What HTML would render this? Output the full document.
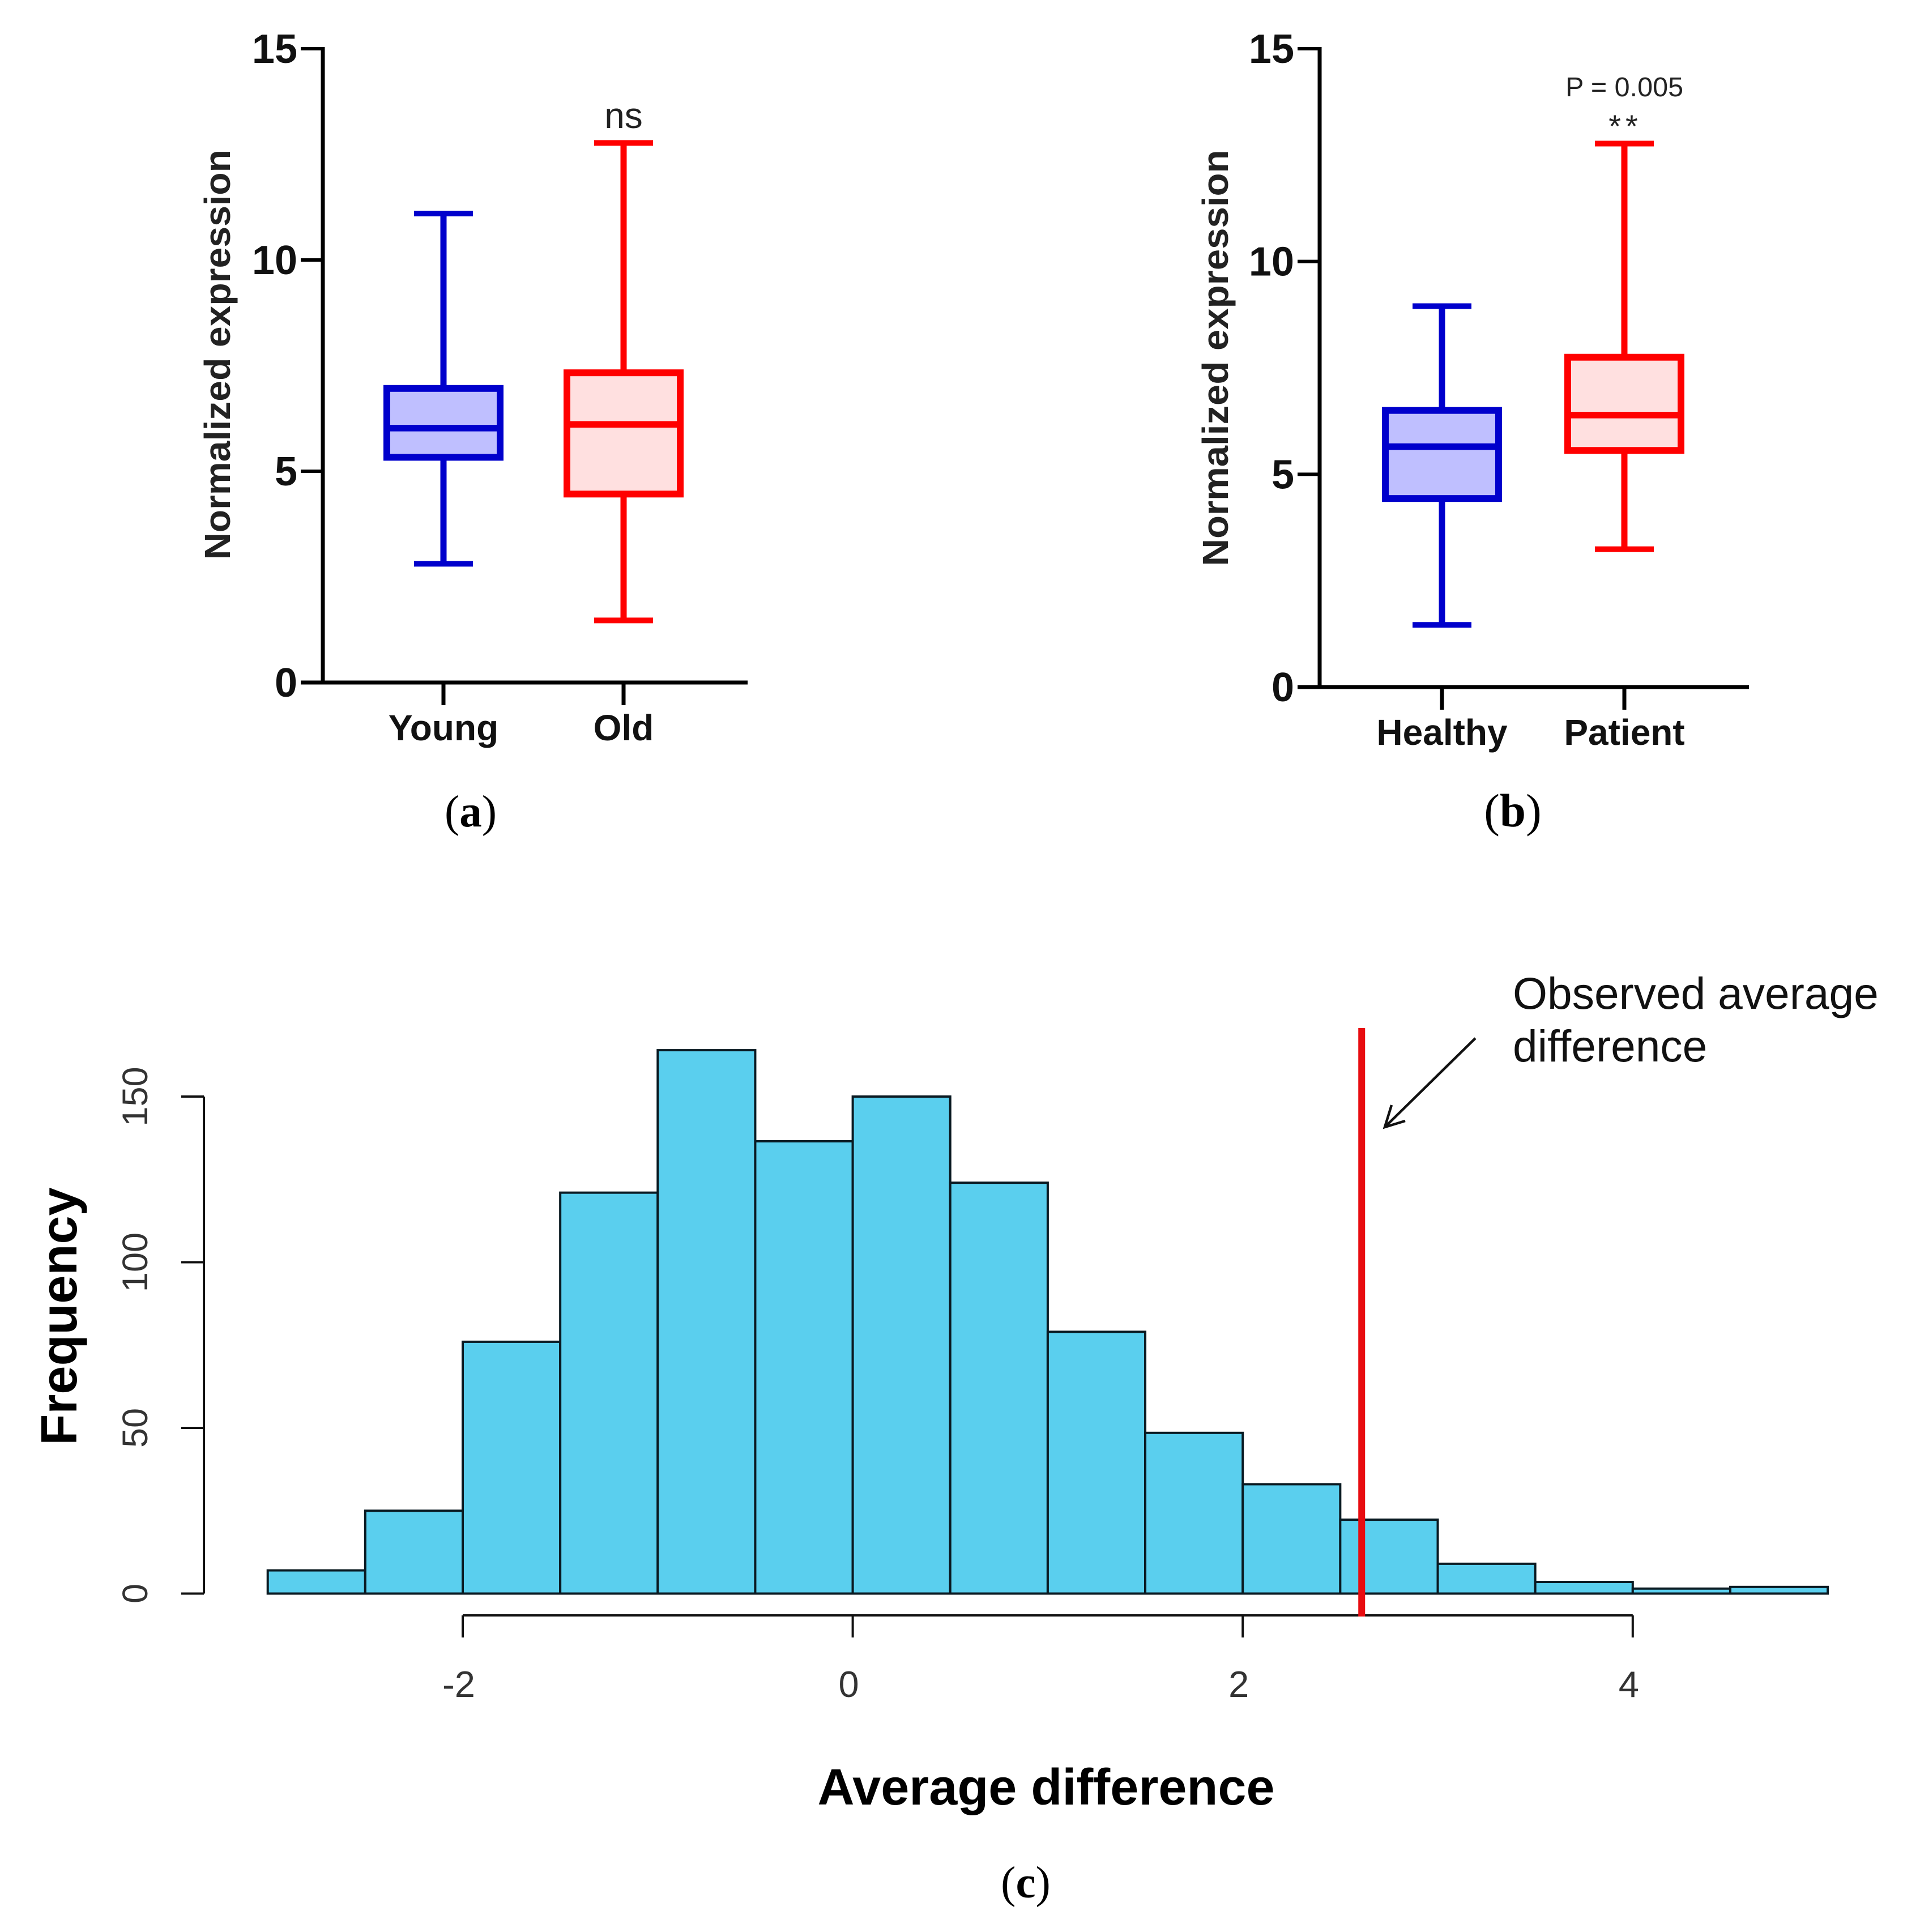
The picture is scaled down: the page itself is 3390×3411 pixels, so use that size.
<!DOCTYPE html>
<html lang="en">
<head>
<meta charset="utf-8">
<title>Normalized expression box plots and permutation histogram</title>
<style>
html,body{margin:0;padding:0;background:#fff;}
svg{display:block;}
text{font-family:"Liberation Sans",Arial,sans-serif;}
.serif{font-family:"Liberation Serif","Times New Roman",serif;}
</style>
</head>
<body>
<svg id="figure" xmlns="http://www.w3.org/2000/svg" width="3390" height="3411" viewBox="0 0 3390 3411">
  <rect x="0" y="0" width="3390" height="3411" fill="#ffffff"/>
  <g id="panel-a"></g>
  <g id="panel-b"></g>
  <g id="panel-c"></g>

  <text transform="translate(406,626) rotate(-90)" text-anchor="middle" font-size="64" font-weight="bold" fill="#222" textLength="724" lengthAdjust="spacingAndGlyphs">Normalized expression</text>
  <text x="1101" y="226" text-anchor="middle" font-size="64" fill="#222">ns</text>
  <text class="serif" x="831" y="1459" text-anchor="middle" font-size="79" fill="#000">(<tspan font-weight="bold">a</tspan>)</text>

  <text transform="translate(2168,632) rotate(-90)" text-anchor="middle" font-size="64" font-weight="bold" fill="#222" textLength="735" lengthAdjust="spacingAndGlyphs">Normalized expression</text>
  <text x="2868" y="170" text-anchor="middle" font-size="48.5" fill="#222">P = 0.005</text>
  <text x="2870" y="242" text-anchor="middle" font-size="56" letter-spacing="8" fill="#222">**</text>
  <text class="serif" x="2671" y="1459" text-anchor="middle" font-size="83" fill="#000">(<tspan font-weight="bold">b</tspan>)</text>

  <text transform="translate(135,2324) rotate(-90)" text-anchor="middle" font-size="90" font-weight="bold" fill="#000">Frequency</text>
  <text x="1847" y="3186" text-anchor="middle" font-size="90" font-weight="bold" fill="#000">Average difference</text>
  <text x="2671" y="1781" font-size="78.5" fill="#111">Observed average</text>
  <text x="2671" y="1874" font-size="78.5" fill="#111">difference</text>
  <g fill="none" stroke="#111" stroke-width="4.5">
    <line x1="2605" y1="1833" x2="2445" y2="1990"/>
    <polyline points="2481,1979 2445,1990 2457,1951"/>
  </g>
  <text class="serif" x="1811" y="3350" text-anchor="middle" font-size="79" fill="#000">(<tspan font-weight="bold">c</tspan>)</text>
</svg>

<script>
// Panel (a) data
const panelACategories = ['Young', 'Old'];
const panelAWhiskerLow = [2.81, 1.47];
const panelAQ1 = [5.33, 4.46];
const panelAMedian = [6.02, 6.11];
const panelAQ3 = [6.96, 7.33];
const panelAWhiskerHigh = [11.1, 12.77];

// Panel (b) data
const panelBCategories = ['Healthy', 'Patient'];
const panelBWhiskerLow = [1.46, 3.24];
const panelBQ1 = [4.43, 5.56];
const panelBMedian = [5.65, 6.39];
const panelBQ3 = [6.5, 7.75];
const panelBWhiskerHigh = [8.95, 12.77];

const boxYTicks = [0, 5, 10, 15];

// Panel (c) data
const histCounts = [7, 25, 76, 121, 164, 136.5, 150, 124, 79, 48.5, 33, 22.3, 9, 3.5, 1.5, 2];
const histFirstEdge = [-3];
const histBinWidth = [0.5];
const histYTicks = [0, 50, 100, 150];
const histXTicks = [-2, 0, 2, 4];
const observedDifference = [2.61];

const NS = 'http://www.w3.org/2000/svg';
function make(tag, parent, attrs) {
  const el = document.createElementNS(NS, tag);
  for (const k in attrs) el.setAttribute(k, attrs[k]);
  parent.appendChild(el);
  return el;
}

function drawBoxPlot(group, prefix, cfg, d) {
  const y = v => cfg.y0 + (cfg.y15 - cfg.y0) * v / 15;
  const x = i => cfg.x0 + i * cfg.step;
  const COLORS = ['#0000cc', '#ff0000'];
  const FILLS = ['#bfbfff', '#ffe0e0'];
  const AX = '#000';

  const yAxis = make('line', group, {x1: cfg.axisX, y1: y(15) - 3, x2: cfg.axisX, y2: y(0) + 3, stroke: AX, 'stroke-width': 7});
  
  

  const xAxis = make('line', group, {x1: cfg.axisX - 39, y1: y(0), x2: cfg.axisEnd, y2: y(0), stroke: AX, 'stroke-width': 7});
  
  

  boxYTicks.forEach(t => {
    const tick = make('line', group, {x1: cfg.axisX - 39, y1: y(t), x2: cfg.axisX, y2: y(t), stroke: AX, 'stroke-width': 6});
    
    
    const label = make('text', group, {x: cfg.axisX - 45, y: y(t) + 25, 'text-anchor': 'end', 'font-size': 72, 'font-weight': 'bold', fill: '#111'});
    label.textContent = String(t);
    
    
  });

  d.categories.forEach((c, i) => {
    const cx = x(i);
    const col = COLORS[i];
    const tick = make('line', group, {x1: cx, y1: y(0), x2: cx, y2: y(0) + 40, stroke: AX, 'stroke-width': 7});
    
    

    const label = make('text', group, {x: cx, y: y(0) + 102, 'text-anchor': 'middle', 'font-size': 64, 'font-weight': 'bold', fill: '#111'});
    label.textContent = c;
    
    

    const whisker = make('line', group, {x1: cx, y1: y(d.hi[i]), x2: cx, y2: y(d.lo[i]), stroke: col, 'stroke-width': 11});
    
    

    const capHi = make('line', group, {x1: cx - 52, y1: y(d.hi[i]), x2: cx + 52, y2: y(d.hi[i]), stroke: col, 'stroke-width': 10});
    
    

    const capLo = make('line', group, {x1: cx - 52, y1: y(d.lo[i]), x2: cx + 52, y2: y(d.lo[i]), stroke: col, 'stroke-width': 10});
    
    

    const box = make('rect', group, {x: cx - 100, y: y(d.q3[i]), width: 200, height: y(d.q1[i]) - y(d.q3[i]), fill: FILLS[i], stroke: col, 'stroke-width': 12});
    
    

    const med = make('line', group, {x1: cx - 100, y1: y(d.med[i]), x2: cx + 100, y2: y(d.med[i]), stroke: col, 'stroke-width': 11.5});
    
    
  });
}

drawBoxPlot(document.getElementById('panel-a'), 'panel-a',
  {y0: 1205, y15: 86, x0: 783, step: 318, axisX: 570, axisEnd: 1320},
  {categories: panelACategories, lo: panelAWhiskerLow, q1: panelAQ1, med: panelAMedian, q3: panelAQ3, hi: panelAWhiskerHigh});

drawBoxPlot(document.getElementById('panel-b'), 'panel-b',
  {y0: 1213, y15: 86, x0: 2546, step: 322, axisX: 2330, axisEnd: 3088},
  {categories: panelBCategories, lo: panelBWhiskerLow, q1: panelBQ1, med: panelBMedian, q3: panelBQ3, hi: panelBWhiskerHigh});

// Histogram
(function () {
  const g = document.getElementById('panel-c');
  const xC = v => 817 + (v + 2) * 344.3;
  const yC = v => 2813.5 - v * 5.85;
  const INK = '#0a1a22';

  histCounts.forEach((count, i) => {
    const left = xC(histFirstEdge[0] + i * histBinWidth[0]);
    const right = xC(histFirstEdge[0] + (i + 1) * histBinWidth[0]);
    const bar = make('rect', g, {x: left, y: yC(count), width: right - left, height: yC(0) - yC(count), fill: '#5acfee', stroke: INK, 'stroke-width': 4});
    
    
  });

  const yAxis = make('line', g, {x1: 360, y1: yC(0), x2: 360, y2: yC(150), stroke: '#111', 'stroke-width': 4});
  
  

  histYTicks.forEach(t => {
    const tick = make('line', g, {x1: 320, y1: yC(t), x2: 360, y2: yC(t), stroke: '#111', 'stroke-width': 4});
    
    
    const label = make('text', g, {transform: 'translate(260,' + yC(t) + ') rotate(-90)', 'text-anchor': 'middle', 'font-size': 63, fill: '#333'});
    label.textContent = String(t);
    
    
  });

  const xAxis = make('line', g, {x1: xC(histXTicks[0]), y1: 2852, x2: xC(histXTicks[histXTicks.length - 1]), y2: 2852, stroke: '#111', 'stroke-width': 4});
  
  

  histXTicks.forEach(t => {
    const tick = make('line', g, {x1: xC(t), y1: 2852, x2: xC(t), y2: 2891, stroke: '#111', 'stroke-width': 4});
    
    
    const label = make('text', g, {x: xC(t) - 7, y: 2996, 'text-anchor': 'middle', 'font-size': 65, fill: '#333'});
    label.textContent = String(t);
    
    
  });

  const redLine = make('line', g, {x1: xC(observedDifference[0]), y1: 1815, x2: xC(observedDifference[0]), y2: 2854, stroke: '#e80c10', 'stroke-width': 12});
  
  
})();
</script>
</body>
</html>
